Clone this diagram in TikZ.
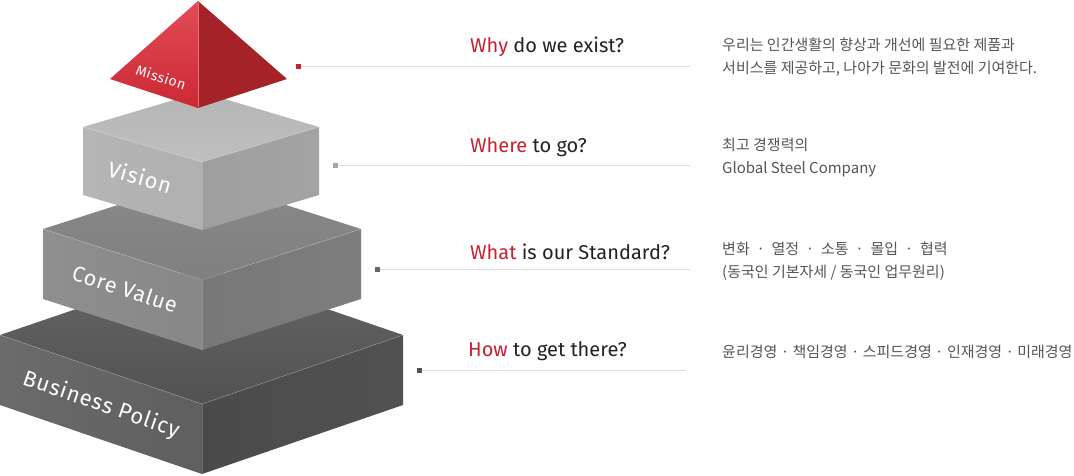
\documentclass[tikz,border=0pt]{standalone}
\usepackage{fontspec}
\setmainfont{Fira Sans}
\newfontfamily\krfont{Noto Sans CJK KR}
\newfontfamily\facefont[LetterSpace=4]{Fira Sans}
\usetikzlibrary{positioning}

\definecolor{dkred}{HTML}{C8202E}
\definecolor{pyrtop}{HTML}{E24C56}
\definecolor{pyrbottom}{HTML}{CC2834}
\definecolor{pyrright}{HTML}{A52229}
\definecolor{qtext}{HTML}{222222}
\definecolor{atext}{HTML}{555555}
\definecolor{linegray}{HTML}{DDDDDD}

\begin{document}
\begin{tikzpicture}[x=1pt,y=-1pt,
    facelabel/.style={text=white, inner sep=0pt},
    edge/.style={draw=white, draw opacity=0.18, line width=0.8pt},
    question/.style={anchor=base west, text=qtext, inner sep=0pt,
      font=\fontsize{20}{20}\selectfont},
    answer/.style={anchor=base west, text=atext, inner sep=0pt, align=left,
      font=\krfont\fontsize{15}{23}\selectfont},
    marker/.style={minimum size=5pt, inner sep=0pt, draw=none},
    leader/.style={draw=linegray, line width=1pt},
    ]
    \useasboundingbox (0,0) rectangle (1074,475);

    % business policy
    \shade[top color=black!60, bottom color=black!68] (202,266) -- (403,335) -- (202,404) -- (0,335) -- cycle;
    \shade[left color=black!58, right color=black!63] (0,335) -- (202,404) -- (202,474) -- (0,405) -- cycle;
    \shade[left color=black!71, right color=black!68] (202,404) -- (403,335) -- (403,405) -- (202,474) -- cycle;
    \draw[edge] (0,335) -- (202,404) -- (403,335);
    \draw[edge] (202,404) -- (202,474);

    % core value
    \shade[top color=black!46, bottom color=black!50] (202,178) -- (361,229) -- (202,280) -- (43,229) -- cycle;
    \shade[left color=black!44, right color=black!47] (43,229) -- (202,280) -- (202,350) -- (43,299) -- cycle;
    \shade[left color=black!53, right color=black!51] (202,280) -- (361,229) -- (361,299) -- (202,350) -- cycle;
    \draw[edge] (43,229) -- (202,280) -- (361,229);
    \draw[edge] (202,280) -- (202,350);

    % vision
    \shade[top color=black!29, bottom color=black!25] (201,92) -- (319,127) -- (202,162) -- (83,127) -- cycle;
    \shade[left color=black!29, right color=black!31] (83,127) -- (202,162) -- (202,230) -- (83,195) -- cycle;
    \shade[left color=black!38, right color=black!36] (202,162) -- (319,127) -- (319,195) -- (202,230) -- cycle;
    \draw[edge] (83,127) -- (202,162) -- (319,127);
    \draw[edge] (202,162) -- (202,230);

    % mission
    \shade[top color=pyrtop, bottom color=pyrbottom] (198,1) -- (110,79) -- (198,108) -- cycle;
    \fill[pyrright] (198,1) -- (198,108) -- (287,79) -- cycle;
    \draw[pyrtop!80!white, line width=0.8pt] (198,2) -- (198,107);

    \node[facelabel, rotate=-18, font=\facefont\fontsize{14}{14}\selectfont] (mission) at (161,77) {Mission};
    \node[facelabel, rotate=-16, font=\facefont\fontsize{22}{22}\selectfont] (vision) at (140,177) {Vision};
    \node[facelabel, rotate=-18, font=\facefont\fontsize{21.5}{21.5}\selectfont] (core) at (125,289) {Core Value};
    \node[facelabel, rotate=-19, font=\facefont\fontsize{22}{22}\selectfont] (business) at (101,405) {Business Policy};

    \node[marker, fill=dkred] (m1) at (298,66) {};
    \node[marker, fill=black!35] (m2) at (335,165) {};
    \node[marker, fill=black!60] (m3) at (377,269) {};
    \node[marker, fill=black!68] (m4) at (419,370) {};
    \coordinate (e1) at (690,66);
    \coordinate (e2) at (690,165);
    \coordinate (e3) at (690,269);
    \coordinate (e4) at (686,370);
    \draw[leader] (m1) -- (e1);
    \draw[leader] (m2) -- (e2);
    \draw[leader] (m3) -- (e3);
    \draw[leader] (m4) -- (e4);

    \node[question] (q1) at (470,52) {\textcolor{dkred}{Why} do we exist?};
    \node[question] (q2) at (470,152) {\textcolor{dkred}{Where} to go?};
    \node[question] (q3) at (470,259) {\textcolor{dkred}{What} is our Standard?};
    \node[question] (q4) at (468,356) {\textcolor{dkred}{How} to get there?};

    \node[answer] (a1) at (722,73) {우리는 인간생활의 향상과 개선에 필요한 제품과\\서비스를 제공하고, 나아가 문화의 발전에 기여한다.};
    \node[answer] (a2) at (722,173) {최고 경쟁력의\\Global Steel Company};
    \node[answer] (a3) at (722,277) {변화 \ · \ 열정 \ · \ 소통 \ · \ 몰입 \ · \ 협력\\(동국인 기본자세 / 동국인 업무원리)};
    \node[answer] (a4) at (722,357) {윤리경영 · 책임경영 · 스피드경영 · 인재경영 · 미래경영};
\end{tikzpicture}
\end{document}
